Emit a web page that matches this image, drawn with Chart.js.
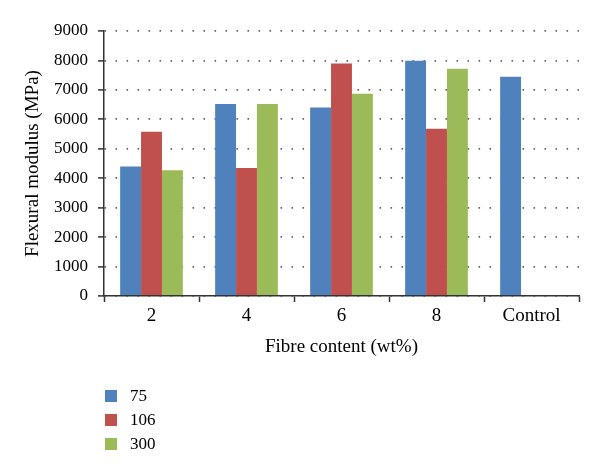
<!DOCTYPE html>
<html lang="en">
<head>
    <meta charset="UTF-8">
    <title>Flexural modulus</title>
    <script src="https://cdn.jsdelivr.net/npm/chart.js"></script>
    <style>
        body { margin: 0; background: #fff; }
        #wrap { position: relative; width: 600px; height: 471px; }
        #legend { position: absolute; left: 105px; top: 384px; font: 17px "Liberation Serif", serif; color: #000; }
        #legend div { height: 24px; display: flex; align-items: center; }
        #legend span.box { width: 12px; height: 12px; margin-right: 13px; display: inline-block; }
    </style>
</head>
<body>
    <div id="wrap">
        <canvas id="chart" width="600" height="471"></canvas>
        <div id="legend"></div>
    </div>

    <script>
        // data
        const categories = ['2', '4', '6', '8', 'Control'];
        const series75 = [4400, 6520, 6400, 7990, 7450];
        const series106 = [5580, 4350, 7900, 5680, null];
        const series300 = [4270, 6520, 6870, 7720, null];
        const seriesNames = ['75', '106', '300'];
        const colors = ['#4F81BD', '#C0504D', '#9BBB59'];
        const yTicks = [0, 1000, 2000, 3000, 4000, 5000, 6000, 7000, 8000, 9000];

        Chart.defaults.font.family = '"Liberation Serif", "Times New Roman", serif';
        Chart.defaults.color = '#000';

        const axisColor = '#333';
        const values = [series75, series106, series300];

        const chart = new Chart(document.getElementById('chart'), {
            type: 'bar',
            data: {
                labels: categories,
                datasets: seriesNames.map((name, i) => ({
                    label: name,
                    data: values[i],
                    backgroundColor: colors[i],
                    borderWidth: 0,
                    categoryPercentage: 0.66,
                    barPercentage: 1.0
                }))
            },
            options: {
                responsive: false,
                animation: false,
                layout: { padding: { left: 18, right: 21, top: 31, bottom: 109 } },
                plugins: {
                    legend: { display: false },
                    tooltip: { enabled: false }
                },
                scales: {
                    x: {
                        grid: {
                            display: true,
                            drawOnChartArea: false,
                            drawTicks: true,
                            offset: true,
                            tickLength: 6,
                            tickColor: axisColor,
                            tickWidth: 1.5
                        },
                        border: { display: true, color: axisColor, width: 1.5 },
                        ticks: { font: { size: 19 }, padding: 3 },
                        title: {
                            display: true,
                            text: 'Fibre content (wt%)',
                            font: { size: 19 },
                            padding: { top: 4, bottom: 4 }
                        },
                        afterFit: (scale) => { scale.height = 66; }
                    },
                    y: {
                        min: 0,
                        max: 9000,
                        afterBuildTicks: (scale) => { scale.ticks = yTicks.map(v => ({ value: v })); },
                        grid: {
                            color: '#666',
                            lineWidth: 1.8,
                            drawTicks: true,
                            tickLength: 6,
                            tickColor: axisColor,
                            tickWidth: 1.5,
                            tickBorderDash: []
                        },
                        border: { display: true, color: axisColor, width: 1.5, dash: [1.6, 9.4] },
                        ticks: { font: { size: 17 }, padding: 10, callback: (v) => String(v) },
                        title: {
                            display: true,
                            text: 'Flexural modulus (MPa)',
                            font: { size: 19 },
                            padding: { top: 4, bottom: 4 }
                        },
                        afterFit: (scale) => { scale.width = 86; }
                    }
                }
            }
        });

        // legend stacked below the chart, as in the figure
        const legend = document.getElementById('legend');
        chart.data.datasets.forEach((ds) => {
            const row = document.createElement('div');
            const box = document.createElement('span');
            box.className = 'box';
            box.style.background = ds.backgroundColor;
            row.appendChild(box);
            row.appendChild(document.createTextNode(ds.label));
            legend.appendChild(row);
        });
    </script>
</body>
</html>
